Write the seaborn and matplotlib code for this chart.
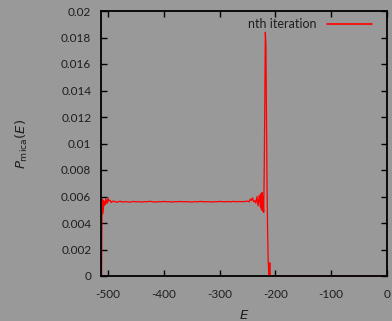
import numpy as np
import pandas as pd
import matplotlib
matplotlib.use("Agg")
import matplotlib.pyplot as plt
import seaborn as sns

# Energy grid and density-of-states estimate after the nth iteration
energy = [-511.5, -511.0, -510.5, -510.0, -509.5, -509.0, -508.5, -508.0, -507.5,
          -507.0, -506.0, -505.0, -504.0, -503.0, -502.0, -501.0, -500.0, -498.0,
          -496.0, -494.0, -492.0, -490.0, -487.0, -484.0, -481.0, -478.0, -475.0,
          -470.0, -465.0, -460.0, -455.0, -450.0, -445.0, -440.0, -435.0, -430.0,
          -425.0, -420.0, -415.0, -410.0, -405.0, -400.0, -395.0, -390.0, -385.0,
          -380.0, -375.0, -370.0, -365.0, -360.0, -355.0, -350.0, -345.0, -340.0,
          -335.0, -330.0, -325.0, -320.0, -315.0, -310.0, -305.0, -300.0, -295.0,
          -290.0, -285.0, -280.0, -275.0, -270.0, -265.0, -260.0, -255.0, -250.0,
          -247.0, -245.0, -243.0, -241.0, -239.0, -237.0, -235.0, -233.0, -231.0,
          -229.0, -227.0, -226.0, -225.0, -224.0, -223.0, -222.0, -221.0, -220.0,
          -219.0, -218.0, -217.0, -216.0, -215.0, -214.0, -213.0, -212.0, -211.0,
          -210.5, -210.0, -209.5, -209.0, -208.0, -205.0,
          -150.0, -100.0, -50.0, 0.0]
density = [0.0000, 0.0030, 0.0058, 0.0055, 0.0047, 0.0052, 0.0050, 0.0057, 0.0055,
           0.0053, 0.0056, 0.0054, 0.0058, 0.0055, 0.0057, 0.0055, 0.0059, 0.00565,
           0.00570, 0.00555, 0.00562, 0.00566, 0.00560, 0.00556, 0.00561, 0.00564, 0.00558,
           0.00561, 0.00560, 0.00557, 0.00563, 0.00560, 0.00561, 0.00558, 0.00561, 0.00560,
           0.00564, 0.00560, 0.00558, 0.00561, 0.00560, 0.00563, 0.00560, 0.00561, 0.00558,
           0.00561, 0.00560, 0.00563, 0.00560, 0.00561, 0.00560, 0.00558, 0.00561, 0.00560,
           0.00563, 0.00561, 0.00560, 0.00561, 0.00558, 0.00561, 0.00560, 0.00563, 0.00561,
           0.00560, 0.00562, 0.00560, 0.00563, 0.00561, 0.00562, 0.00561, 0.00562, 0.00565,
           0.0056, 0.0058, 0.0057, 0.0059, 0.0056, 0.0057, 0.0055, 0.0060, 0.0053,
           0.0061, 0.0052, 0.0062, 0.0050, 0.0063, 0.0049, 0.0060, 0.0048, 0.0080,
           0.0130, 0.0184, 0.0175, 0.0120, 0.0070, 0.0035, 0.0012, 0.0003, 0.0000,
           0.0006, 0.0010, 0.0004, 0.0000, 0.0000, 0.0000,
           0.0000, 0.0000, 0.0000, 0.0000]

x_ticks = [-500, -400, -300, -200, -100, 0]
y_ticks = [0, 0.002, 0.004, 0.006, 0.008, 0.01, 0.012, 0.014, 0.016, 0.018, 0.02]
y_tick_labels = ["0", "0.002", "0.004", "0.006", "0.008", "0.01", "0.012",
                 "0.014", "0.016", "0.018", "0.02"]
series_name = "nth iteration"

df = pd.DataFrame({"E": energy, "P": density, "series": series_name})

sns.set_theme(style="ticks")
plt.rcParams["font.family"] = ["Lato", "DejaVu Sans"]
plt.rcParams["mathtext.fontset"] = "dejavusans"

bg = "#999999"
txt = "#1e1e1e"
fig = plt.figure(figsize=(3.92, 3.21), dpi=100, facecolor=bg)
ax = fig.add_axes([101 / 392, 1 - 276 / 321, 286 / 392, 265 / 321])
ax.set_facecolor(bg)

sns.lineplot(data=df, x="E", y="P", hue="series", palette=["#ff0000"],
             linewidth=0.9, ax=ax, estimator=None, sort=False)

ax.set_xlim(-512.5, 0)
ax.set_ylim(0, 0.02)
ax.set_xticks(x_ticks)
ax.set_xticklabels([str(t) for t in x_ticks])
ax.set_yticks(y_ticks)
ax.set_yticklabels(y_tick_labels)

for side in ["top", "right", "left", "bottom"]:
    ax.spines[side].set_visible(True)
    ax.spines[side].set_color("black")
    ax.spines[side].set_linewidth(1.3)

ax.tick_params(axis="both", which="both", direction="in", length=4, width=1,
               colors="black", labelcolor=txt, labelsize=8.5,
               top=True, right=True)
ax.tick_params(axis="y", pad=7)
ax.tick_params(axis="x", pad=9)

ax.set_xlabel("$E$", fontsize=9.5, color=txt, labelpad=6)
ax.set_ylabel(r"$P_{\mathrm{mica}}(E)$", fontsize=9.5, color=txt, labelpad=22)

leg = ax.legend(loc="upper right", frameon=False, markerfirst=False,
                fontsize=9, handlelength=3.6, handletextpad=0.9,
                borderaxespad=0.2, bbox_to_anchor=(0.975, 1.0))
for t in leg.get_texts():
    t.set_color(txt)
for line in leg.get_lines():
    line.set_linewidth(1.2)

fig.savefig("out.png", dpi=100, facecolor=bg)
